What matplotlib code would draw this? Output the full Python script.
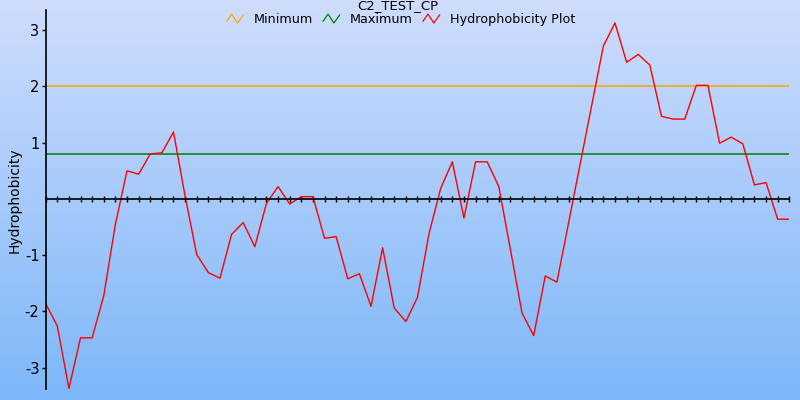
import numpy as np
import matplotlib
matplotlib.use("Agg")
import matplotlib.pyplot as plt
from matplotlib.legend_handler import HandlerBase
from matplotlib.lines import Line2D

# hydrophobicity values, one per residue window
hydro = [-1.86, -2.26, -3.37, -2.47, -2.47, -1.72, -0.45, 0.50, 0.44, 0.80,
         0.82, 1.19, 0.05, -0.99, -1.31, -1.41, -0.63, -0.42, -0.85, -0.08,
         0.22, -0.09, 0.04, 0.04, -0.70, -0.67, -1.42, -1.33, -1.91, -0.87,
         -1.94, -2.18, -1.75, -0.61, 0.19, 0.66, -0.34, 0.66, 0.66, 0.22,
         -0.90, -2.03, -2.43, -1.37, -1.48, -0.43, 0.62, 1.67, 2.72, 3.13,
         2.43, 2.57, 2.38, 1.47, 1.42, 1.42, 2.02, 2.02, 0.99, 1.10,
         0.98, 0.25, 0.29, -0.36, -0.36]
minimum = 2.0
maximum = 0.8
yticks = [-3, -2, -1, 1, 2, 3]
title = "C2_TEST_CP"


class ZigZag(HandlerBase):
    # small zigzag icon like the original legend
    def create_artists(self, legend, orig, xd, yd, w, h, fontsize, trans):
        xs = np.array([0.0, 0.3, 0.65, 1.0]) * w - xd
        ys = np.array([0.2, 1.0, 0.0, 0.9]) * h - yd
        ln = Line2D(xs, ys, color=orig.get_color(), lw=0.9, transform=trans)
        return [ln]


fig = plt.figure(figsize=(8, 4), dpi=100)

# background gradient
bg = fig.add_axes([0, 0, 1, 1], zorder=-10)
grad = np.linspace(0, 1, 256).reshape(-1, 1)
top = np.array([207, 221, 253]) / 255
bottom = np.array([125, 183, 249]) / 255
img = top + grad[..., None] * (bottom - top)
bg.imshow(img, aspect="auto", extent=[0, 1, 0, 1])
bg.axis("off")

ax = fig.add_axes([0.0571, 0.0275, 0.9295, 0.9475])
ax.patch.set_alpha(0)

x = np.arange(len(hydro))
h_min = ax.axhline(minimum, color="#ffa500", lw=1.1)
h_max = ax.axhline(maximum, color="#008000", lw=1.1)
h_plot, = ax.plot(x, hydro, color="red", lw=1.0)

ax.set_xlim(0, len(hydro) - 1)
ax.set_ylim(-3.38, 3.36)
ax.set_xticks(x)
ax.set_yticks(yticks)
ax.set_yticklabels([str(t) for t in yticks])

ax.spines["top"].set_visible(False)
ax.spines["right"].set_visible(False)
ax.spines["bottom"].set_position(("data", 0))
ax.spines["left"].set_linewidth(1.2)
ax.spines["bottom"].set_linewidth(1.2)
ax.tick_params(axis="x", direction="inout", length=4.5, width=1.0, labelbottom=False)
ax.tick_params(axis="y", direction="out", length=3, width=1.0, labelsize=10.5, pad=1.5)

fig.text(15 / 800, 0.5, "Hydrophobicity", rotation=90, va="center", ha="center", fontsize=10)
fig.text(398 / 800, 1 - 5.5 / 400, title, ha="center", va="center", fontsize=9.5)

fig.legend([h_min, h_max, h_plot], ["Minimum", "Maximum", "Hydrophobicity Plot"],
           handler_map={Line2D: ZigZag()}, ncol=3, frameon=False,
           loc="center", bbox_to_anchor=(401 / 800, 1 - 19.5 / 400),
           fontsize=9.2, handlelength=1.3, handletextpad=0.8, columnspacing=0.8,
           borderpad=0, borderaxespad=0)

fig.savefig("out.png", dpi=100)
